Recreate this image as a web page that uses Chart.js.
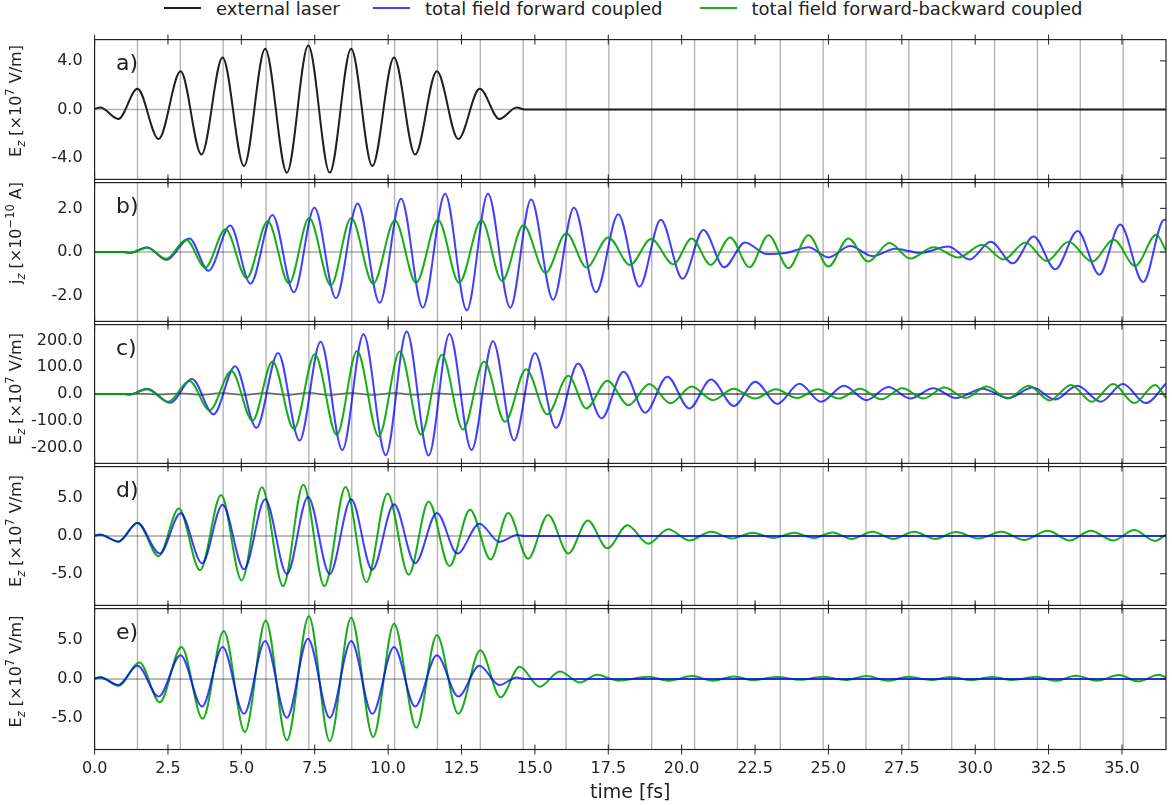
<!DOCTYPE html>
<html><head><meta charset="utf-8"><title>fields</title>
<script src="https://cdn.jsdelivr.net/npm/chart.js@4.4.1/dist/chart.umd.min.js"></script>
<style>
html,body{margin:0;padding:0;background:#fff;}
body{position:relative;width:1172px;height:805px;overflow:hidden;font-family:'DejaVu Sans',sans-serif;color:#222;}
canvas{position:absolute;left:0;}
.lg-line{position:absolute;height:2px;width:37px;top:7px;}
.lg-text{position:absolute;top:-1.7px;font-size:18px;line-height:21px;white-space:nowrap;color:#222;}
</style></head><body>
<script>
// ---------------- data ----------------
const legendLabels = ['external laser', 'total field forward coupled', 'total field forward-backward coupled'];
const xTitle = 'time [fs]';
const xTicks = [0, 2.5, 5, 7.5, 10, 12.5, 15, 17.5, 20, 22.5, 25, 27.5, 30, 32.5, 35];
const periodLines = [1.46, 2.92, 4.38, 5.84, 7.30, 8.76, 10.22, 11.68, 13.14, 14.60, 16.06, 17.52, 18.98, 20.44, 21.90, 23.36, 24.82, 26.28, 27.74, 29.20, 30.66, 32.12, 33.58, 35.04];
const aYTicks = [-4, 0, 4];
const bYTicks = [-2, 0, 2];
const cYTicks = [-200, -100, 0, 100, 200];
const dYTicks = [-5, 0, 5];
const eYTicks = [-5, 0, 5];

// external laser (panel a, and grey trace in panel c)
const laserT = [0, 0.19, 0.81, 1.46, 2.18, 2.93, 3.64, 4.36, 5.09, 5.81, 6.55, 7.28, 8.01, 8.74, 9.46, 10.20, 10.92, 11.66, 12.39, 13.12, 13.79, 14.38, 14.65, 36.5];
const laserV = [0.05, 0.16, -0.78, 1.70, -2.43, 3.14, -3.70, 4.27, -4.65, 5.00, -5.19, 5.27, -5.19, 5.00, -4.65, 4.27, -3.70, 3.14, -2.43, 1.70, -0.78, 0.16, 0, 0];

// panel b: j_z
const jBlueT = [0, 1.0, 1.20, 1.79, 2.44, 3.23, 3.88, 4.62, 5.31, 6.06, 6.79, 7.49, 8.22, 8.96, 9.71, 10.44, 11.18, 11.94, 12.68, 13.40, 14.16, 14.87, 15.62, 16.33, 17.08, 17.84, 18.56, 19.29, 20.03, 20.74, 21.45, 22.16, 22.9, 23.6, 24.32, 25.0, 25.74, 26.51, 27.27, 27.79, 28.12, 29.09, 29.81, 30.53, 31.28, 31.99, 32.73, 33.49, 34.23, 34.94, 35.72, 36.44, 36.5];
const jBlueV = [0, 0, -0.04, 0.22, -0.36, 0.62, -0.86, 1.21, -1.45, 1.70, -1.85, 2.04, -2.12, 2.22, -2.33, 2.44, -2.55, 2.67, -2.67, 2.67, -2.55, 2.40, -2.19, 2.04, -1.85, 1.73, -1.59, 1.48, -1.23, 1.01, -0.70, 0.44, -0.09, -0.03, 0.22, -0.25, 0.27, -0.19, 0.15, 0.03, -0.04, 0.25, -0.34, 0.47, -0.52, 0.71, -0.79, 0.96, -1.04, 1.26, -1.38, 1.48, 1.47];
const jGreenT = [0, 1.0, 1.20, 1.79, 2.44, 3.12, 3.77, 4.46, 5.18, 5.90, 6.62, 7.31, 8.05, 8.74, 9.49, 10.23, 10.95, 11.70, 12.42, 13.18, 13.88, 14.61, 15.36, 16.07, 16.76, 17.50, 18.24, 18.96, 19.72, 20.34, 20.99, 21.65, 22.31, 22.96, 23.64, 24.32, 25.0, 25.68, 26.35, 27.08, 27.79, 28.58, 29.43, 30.23, 30.97, 31.71, 32.44, 33.18, 33.98, 34.72, 35.45, 36.17, 36.5];
const jGreenV = [0, 0, -0.04, 0.20, -0.31, 0.56, -0.71, 1.04, -1.19, 1.41, -1.44, 1.56, -1.53, 1.56, -1.45, 1.45, -1.41, 1.48, -1.41, 1.45, -1.33, 1.23, -0.96, 0.86, -0.71, 0.67, -0.59, 0.59, -0.56, 0.62, -0.59, 0.67, -0.70, 0.77, -0.74, 0.77, -0.67, 0.62, -0.44, 0.41, -0.30, 0.22, -0.25, 0.33, -0.34, 0.43, -0.41, 0.47, -0.44, 0.56, -0.64, 0.79, 0.07];

// panel c: E_z
const cBlueT = [0, 1.0, 1.2, 1.79, 2.57, 3.32, 4.05, 4.79, 5.51, 6.25, 6.98, 7.70, 8.44, 9.16, 9.92, 10.63, 11.38, 12.09, 12.84, 13.57, 14.29, 15.0, 15.72, 16.47, 17.27, 18.02, 18.76, 19.51, 20.26, 21.0, 21.78, 22.51, 23.26, 24.01, 24.75, 25.53, 26.30, 27.04, 27.79, 28.57, 29.34, 30.25, 31.13, 31.96, 32.71, 33.48, 34.28, 35.03, 35.81, 36.5];
const cBlueV = [0, 0, -2, 20, -33, 56, -76, 104, -127, 154, -174, 196, -210, 224, -229, 234, -230, 225, -210, 198, -174, 154, -127, 114, -91, 83, -70, 65, -54, 54, -45, 46, -37, 38, -29, 31, -23, 26, -17, 22, -15, 20, -15, 24, -21, 31, -29, 37, -34, 39];
const cGreenT = [0, 1.0, 1.2, 1.79, 2.51, 3.23, 3.92, 4.66, 5.38, 6.06, 6.79, 7.50, 8.25, 8.94, 9.68, 10.40, 11.12, 11.83, 12.55, 13.27, 13.98, 14.70, 15.42, 16.14, 16.75, 17.47, 18.19, 18.90, 19.62, 20.34, 21.06, 21.77, 22.49, 23.21, 23.93, 24.64, 25.36, 26.08, 26.80, 27.52, 28.24, 28.95, 29.67, 30.39, 31.11, 31.82, 32.54, 33.26, 33.98, 34.70, 35.42, 36.13, 36.5];
const cGreenV = [0, 0, -2, 18, -29, 49, -61, 86, -100, 122, -131, 149, -153, 161, -159, 160, -152, 147, -133, 122, -104, 93, -76, 68, -54, 50, -42, 37, -35, 28, -23, 20, -17, 18, -15, 18, -17, 20, -20, 22, -17, 24, -15, 28, -17, 31, -24, 34, -29, 37, -34, 34, -15];

// panel d: E_z
const dBlueT = [0, 0.19, 0.81, 1.46, 2.22, 2.93, 3.66, 4.36, 5.09, 5.81, 6.55, 7.27, 8.01, 8.74, 9.46, 10.20, 10.92, 11.66, 12.36, 13.11, 13.79, 14.40, 14.65, 36.5];
const dBlueV = [0.05, 0.18, -0.75, 1.72, -2.33, 3.02, -3.62, 4.14, -4.40, 4.87, -5.04, 5.17, -5.04, 4.87, -4.48, 4.22, -3.62, 3.06, -2.33, 1.64, -0.78, 0.13, 0, 0];
const dGreenT = [0, 0.19, 0.81, 1.46, 2.18, 2.87, 3.59, 4.31, 5.01, 5.70, 6.42, 7.11, 7.83, 8.55, 9.26, 9.98, 10.70, 11.38, 12.09, 12.79, 13.49, 14.09, 14.77, 15.45, 16.14, 16.80, 17.47, 18.15, 18.87, 19.54, 20.26, 21.0, 21.71, 22.42, 23.13, 23.84, 24.49, 25.14, 25.79, 26.50, 27.21, 27.92, 28.63, 29.34, 30.12, 30.89, 31.67, 32.47, 33.22, 33.93, 34.71, 35.42, 36.13, 36.5];
const dGreenV = [0.05, 0.2, -0.73, 1.77, -2.67, 3.66, -4.53, 5.43, -5.90, 6.47, -6.64, 6.81, -6.64, 6.51, -6.12, 5.65, -5.13, 4.57, -3.97, 3.49, -3.10, 3.06, -3.02, 2.80, -2.33, 2.07, -1.64, 1.42, -1.03, 0.91, -0.60, 0.56, -0.34, 0.43, -0.26, 0.43, -0.26, 0.47, -0.39, 0.56, -0.39, 0.56, -0.39, 0.52, -0.34, 0.56, -0.52, 0.69, -0.60, 0.69, -0.60, 0.78, -0.65, 0.2];

// panel e: E_z
const eBlueT = [0, 0.19, 0.81, 1.46, 2.18, 2.93, 3.66, 4.36, 5.09, 5.81, 6.55, 7.27, 8.01, 8.74, 9.46, 10.20, 10.92, 11.66, 12.39, 13.11, 13.79, 14.38, 14.65, 36.5];
const eBlueV = [0.05, 0.21, -0.77, 1.71, -2.26, 3.08, -3.55, 4.15, -4.49, 4.91, -5.0, 5.21, -5.0, 4.91, -4.49, 4.15, -3.55, 3.08, -2.26, 1.71, -0.77, 0.21, 0, 0];
const eGreenT = [0, 0.19, 0.81, 1.53, 2.22, 2.96, 3.68, 4.40, 5.12, 5.83, 6.55, 7.30, 8.01, 8.74, 9.49, 10.20, 10.96, 11.66, 12.39, 13.14, 13.83, 14.48, 15.16, 15.85, 16.53, 17.12, 17.83, 18.87, 19.58, 20.35, 21.06, 21.78, 22.42, 23.26, 24.04, 24.82, 25.59, 26.30, 27.01, 27.73, 28.50, 29.15, 29.86, 30.57, 31.28, 32.06, 32.77, 33.42, 34.15, 34.90, 35.55, 36.26, 36.5];
const eGreenV = [0.05, 0.25, -0.85, 2.14, -2.99, 4.15, -5.13, 6.20, -6.84, 7.56, -7.91, 8.12, -8.03, 7.91, -7.48, 7.14, -6.28, 5.68, -4.49, 3.72, -2.35, 1.58, -0.98, 0.98, -0.45, 0.56, -0.21, 0.30, -0.21, 0.38, -0.21, 0.34, -0.13, 0.26, -0.09, 0.30, -0.13, 0.38, -0.21, 0.30, -0.13, 0.26, -0.13, 0.26, -0.13, 0.30, -0.21, 0.43, -0.21, 0.51, -0.30, 0.56, 0.2];

// ---------------- styling / layout ----------------
const BLACK = '#1f1f1f', BLUE = 'rgba(0,0,255,0.75)', GREEN = 'rgba(0,165,0,0.9)', GREY = 'rgba(0,0,0,0.45)';
const FONT = "'DejaVu Sans'";
const ezTitle = [{t:'E'}, {t:'z', s:'sub'}, {t:' [×10'}, {t:'7', s:'sup'}, {t:' V/m]'}];
const jzTitle = [{t:'j'}, {t:'z', s:'sub'}, {t:' [×10'}, {t:'−10', s:'sup'}, {t:' A]'}];

// legend (HTML, real text)
const legendColors = [BLACK, 'rgb(64,64,255)', 'rgb(20,175,20)'];
const legendLineX = [164, 373, 699.5];
legendLabels.forEach((lab, i) => {
  const ln = document.createElement('div'); ln.className = 'lg-line';
  ln.style.left = legendLineX[i] + 'px'; ln.style.background = legendColors[i];
  document.body.appendChild(ln);
  const tx = document.createElement('div'); tx.className = 'lg-text';
  tx.style.left = (legendLineX[i] + 52) + 'px'; tx.textContent = lab;
  document.body.appendChild(tx);
});

function drawRich(ctx, parts, xb, yc) {
  ctx.save();
  ctx.translate(xb, yc); ctx.rotate(-Math.PI / 2);
  ctx.textAlign = 'left'; ctx.textBaseline = 'alphabetic'; ctx.fillStyle = '#222';
  const fonts = parts.map(p => p.s === 'sub' ? 'italic 11.5px ' + FONT : p.s === 'sup' ? '11.5px ' + FONT : '16px ' + FONT);
  let total = 0;
  parts.forEach((p, i) => { ctx.font = fonts[i]; total += ctx.measureText(p.t).width; });
  let cx = -total / 2;
  parts.forEach((p, i) => {
    ctx.font = fonts[i];
    const dy = p.s === 'sub' ? 3.5 : p.s === 'sup' ? -7 : 0;
    ctx.fillText(p.t, cx, dy);
    cx += ctx.measureText(p.t).width;
  });
  ctx.restore();
}

const decor = {
  id: 'decor',
  beforeDatasetsDraw(chart, args, o) {
    const ctx = chart.ctx, a = chart.chartArea, x = chart.scales.x, y = chart.scales.y;
    ctx.save();
    ctx.beginPath(); ctx.rect(a.left, a.top, a.right - a.left, a.bottom - a.top); ctx.clip();
    ctx.strokeStyle = 'rgba(90,90,90,0.45)'; ctx.lineWidth = 1.4;
    periodLines.forEach(t => {
      const px = x.getPixelForValue(t);
      ctx.beginPath(); ctx.moveTo(px, a.top); ctx.lineTo(px, a.bottom); ctx.stroke();
    });
    const py = y.getPixelForValue(0);
    ctx.strokeStyle = o.zeroColor; ctx.lineWidth = o.zeroWidth;
    ctx.beginPath(); ctx.moveTo(a.left, py); ctx.lineTo(a.right, py); ctx.stroke();
    ctx.restore();
  },
  afterDatasetsDraw(chart, args, o) {
    const ctx = chart.ctx, a = chart.chartArea, x = chart.scales.x, y = chart.scales.y;
    ctx.save();
    ctx.strokeStyle = '#222'; ctx.lineWidth = 1.2;
    ctx.strokeRect(a.left, a.top, a.right - a.left, a.bottom - a.top);
    ctx.lineWidth = 1;
    xTicks.forEach(v => {
      const px = x.getPixelForValue(v);
      ctx.beginPath();
      ctx.moveTo(px, a.top - 5); ctx.lineTo(px, a.top + 5);
      ctx.moveTo(px, a.bottom - 5); ctx.lineTo(px, a.bottom + 5);
      ctx.stroke();
    });
    o.yTicks.forEach(v => {
      const py = y.getPixelForValue(v);
      ctx.beginPath(); ctx.moveTo(a.right - 6, py); ctx.lineTo(a.right, py); ctx.stroke();
    });
    ctx.fillStyle = '#222'; ctx.font = '22px ' + FONT;
    ctx.textAlign = 'left'; ctx.textBaseline = 'alphabetic';
    ctx.fillText(o.tag, 116, a.top + 30);
    drawRich(ctx, o.title, 21.4, o.titleY - o.canvasTop);
    ctx.restore();
  }
};

function series(T, V, color, width, label) {
  return {
    label: label,
    data: T.map((t, i) => ({x: t, y: V[i]})),
    borderColor: color, backgroundColor: color, borderWidth: width,
    pointRadius: 0, fill: false, cubicInterpolationMode: 'monotone', tension: 0.4
  };
}

const panels = [
  {top: 38.5, bottom: 181, ct: 18, ch: 183, yMin: -5.75, yMax: 5.75, yTicks: aYTicks, tag: 'a)', title: ezTitle, titleY: 101,
   zeroColor: 'rgba(0,0,0,0.3)', zeroWidth: 1.5,
   datasets: [series(laserT, laserV, BLACK, 2, legendLabels[0])]},
  {top: 181, bottom: 323, ct: 161, ch: 182, yMin: -3.18, yMax: 3.18, yTicks: bYTicks, tag: 'b)', title: jzTitle, titleY: 233,
   zeroColor: 'rgba(0,0,0,0.25)', zeroWidth: 2,
   datasets: [series(jGreenT, jGreenV, GREEN, 2, legendLabels[2]), series(jBlueT, jBlueV, BLUE, 2, legendLabels[1])]},
  {top: 323, bottom: 465, ct: 303, ch: 182, yMin: -260, yMax: 260, yTicks: cYTicks, tag: 'c)', title: ezTitle, titleY: 389,
   zeroColor: 'rgba(0,0,0,0.35)', zeroWidth: 1.5,
   datasets: [series(cGreenT, cGreenV, GREEN, 2, legendLabels[2]), series(cBlueT, cBlueV, BLUE, 2, legendLabels[1]), series(laserT, laserV, GREY, 1.5, legendLabels[0])]},
  {top: 465, bottom: 607, ct: 445, ch: 182, yMin: -9.2, yMax: 9.2, yTicks: dYTicks, tag: 'd)', title: ezTitle, titleY: 531,
   zeroColor: 'rgba(0,0,0,0.55)', zeroWidth: 1,
   datasets: [series(dBlueT, dBlueV, BLUE, 2, legendLabels[1]), series(dGreenT, dGreenV, GREEN, 2, legendLabels[2])]},
  {top: 607, bottom: 749.5, ct: 587, ch: 218, yMin: -9.1, yMax: 9.1, yTicks: eYTicks, tag: 'e)', title: ezTitle, titleY: 671.5,
   zeroColor: 'rgba(0,0,0,0.55)', zeroWidth: 1, last: true,
   datasets: [series(eBlueT, eBlueV, BLUE, 2, legendLabels[1]), series(eGreenT, eGreenV, GREEN, 2, legendLabels[2])]}
];

const PLOT_LEFT = 94.6, PLOT_RIGHT = 1166, W = 1172;

panels.forEach(p => {
  const cv = document.createElement('canvas');
  cv.width = W; cv.height = p.ch; cv.style.top = p.ct + 'px';
  cv.style.width = W + 'px'; cv.style.height = p.ch + 'px';
  document.body.appendChild(cv);
  const padTop = p.top - p.ct;
  const padBottom = p.last ? 0 : (p.ct + p.ch - p.bottom);
  new Chart(cv.getContext('2d'), {
    type: 'line',
    data: {datasets: p.datasets},
    plugins: [decor],
    options: {
      responsive: false, animation: false, devicePixelRatio: 1, events: [],
      layout: {padding: {top: padTop, bottom: padBottom, left: 0, right: W - PLOT_RIGHT}},
      plugins: {
        legend: {display: false}, tooltip: {enabled: false},
        decor: {yTicks: p.yTicks, tag: p.tag, title: p.title, titleY: p.titleY, canvasTop: p.ct,
                zeroColor: p.zeroColor, zeroWidth: p.zeroWidth}
      },
      scales: {
        x: {
          type: 'linear', min: 0, max: 36.5, position: 'bottom', display: !!p.last,
          afterBuildTicks: s => { s.ticks = xTicks.map(v => ({value: v})); },
          afterFit: s => { if (p.last) s.height = 805 - p.bottom; },
          grid: {display: false, drawTicks: false}, border: {display: false},
          ticks: {padding: 10, autoSkip: false, maxRotation: 0, color: '#222',
                  font: {family: 'DejaVu Sans', size: 16}, callback: v => Number(v).toFixed(1)},
          title: {display: true, text: xTitle, color: '#222', font: {family: 'DejaVu Sans', size: 19},
                  padding: {top: 0, bottom: 0.6}}
        },
        y: {
          type: 'linear', min: p.yMin, max: p.yMax, position: 'left',
          afterBuildTicks: s => { s.ticks = p.yTicks.map(v => ({value: v})); },
          afterFit: s => { s.width = PLOT_LEFT; },
          grid: {display: false, drawTicks: false}, border: {display: false},
          ticks: {padding: 12, color: '#222', font: {family: 'DejaVu Sans', size: 16},
                  callback: v => Number(v).toFixed(1)}
        }
      }
    }
  });
});
</script>
</body></html>
